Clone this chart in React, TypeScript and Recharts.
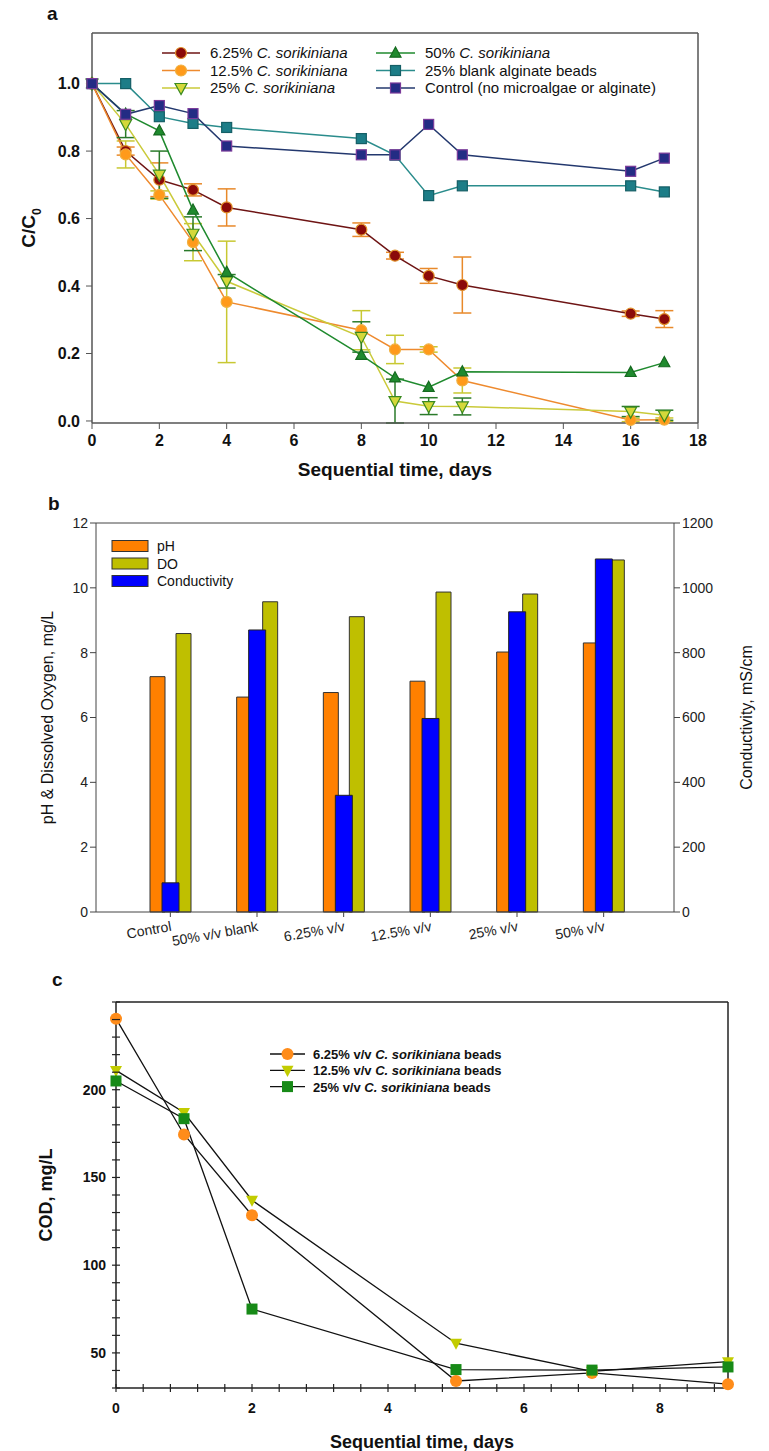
import { LineChart, Line, XAxis, YAxis, ErrorBar, ReferenceLine, BarChart, Bar } from "recharts";

const FONT = "Arial, 'Liberation Sans', Helvetica, sans-serif";

// ---- panel a: C/C0 vs time ----
const daysA = [0, 1, 2, 3, 4, 8, 9, 10, 11, 16, 17];
const cs625 = [1.0, 0.8, 0.715, 0.685, 0.633, 0.567, 0.49, 0.43, 0.403, 0.318, 0.302];
const cs625Err = [0, 0.012, 0.05, 0.018, 0.055, 0.02, 0.01, 0.022, 0.083, 0.008, 0.025];
const cs125 = [1.0, 0.79, 0.67, 0.53, 0.353, 0.269, 0.212, 0.212, 0.12, 0.003, 0.004];
const cs125Err = [0, 0.04, 0.012, 0.055, 0.18, 0.058, 0.042, 0.008, 0.037, 0.005, 0.005];
const cs25 = [1.0, 0.88, 0.73, 0.555, 0.414, 0.249, 0.059, 0.044, 0.043, 0.028, 0.017];
const cs25Err = [0, 0.04, 0.07, 0.05, 0.02, 0.045, 0.065, 0.025, 0.025, 0.015, 0.015];
const cs50 = [1.0, 0.91, 0.86, 0.625, 0.441, 0.195, 0.128, 0.1, 0.146, 0.144, 0.173];
const blank25 = [1.0, 1.0, 0.902, 0.882, 0.87, 0.837, 0.788, 0.668, 0.697, 0.697, 0.679];
const control = [1.0, 0.909, 0.935, 0.911, 0.815, 0.789, 0.789, 0.879, 0.789, 0.74, 0.779];
const xTicksA = [0, 2, 4, 6, 8, 10, 12, 14, 16, 18];
const yTicksA = [0, 0.2, 0.4, 0.6, 0.8, 1.0];

// ---- panel b: pH, DO, conductivity ----
const groupsB = ["Control", "50% v/v blank", "6.25% v/v", "12.5% v/v", "25% v/v", "50% v/v"];
const phB = [7.26, 6.63, 6.77, 7.12, 8.02, 8.3];
const doB = [8.59, 9.57, 9.11, 9.87, 9.81, 10.86];
const condB = [90, 870, 360, 597, 926, 1089];
const yTicksBLeft = [0, 2, 4, 6, 8, 10, 12];
const yTicksBRight = [0, 200, 400, 600, 800, 1000, 1200];

// ---- panel c: COD vs time ----
const daysC = [0, 1, 2, 5, 7, 9];
const cod625 = [240.5, 174.5, 128.5, 34, 38.6, 32.2];
const cod125 = [211, 187, 137, 55.5, 39.5, 45];
const cod25 = [205, 183.5, 75, 40.5, 40.2, 42];
const xTicksC = [0, 0.4, 0.8, 1.2, 1.6, 2, 2.4, 2.8, 3.2, 3.6, 4, 4.4, 4.8, 5.2, 5.6, 6, 6.4, 6.8, 7.2, 7.6, 8, 8.4, 8.8];
const yTicksC = [30, 40, 50, 60, 70, 80, 90, 100, 110, 120, 130, 140, 150, 160, 170, 180, 190, 200, 210, 220, 230, 240, 250];

const dataA = daysA.map((d, i) => ({
  day: d,
  cs625: cs625[i], cs625Err: cs625Err[i],
  cs125: cs125[i], cs125Err: cs125Err[i],
  cs25: cs25[i], cs25Err: cs25Err[i],
  cs50: cs50[i], blank25: blank25[i], control: control[i],
}));
const dataB = groupsB.map((g, i) => ({ cat: g, ph: phB[i], dox: doB[i], cond: condB[i] }));
const dataC = daysC.map((d, i) => ({ day: d, cod625: cod625[i], cod125: cod125[i], cod25: cod25[i] }));

function Marker({ cx, cy, shape, size, fill, stroke, strokeWidth = 1 }: any) {
  if (cx == null || cy == null || isNaN(cx) || isNaN(cy)) return null;
  const r = size / 2;
  const c = { fill, stroke, strokeWidth };
  if (shape === "circle") return <circle cx={cx} cy={cy} r={r} {...c} />;
  if (shape === "square") return <rect x={cx - r} y={cy - r} width={size} height={size} {...c} />;
  if (shape === "up")
    return <polygon points={`${cx},${cy - r * 1.1} ${cx + r},${cy + r * 0.75} ${cx - r},${cy + r * 0.75}`} {...c} />;
  return <polygon points={`${cx},${cy + r * 1.1} ${cx + r},${cy - r * 0.75} ${cx - r},${cy - r * 0.75}`} {...c} />;
}

// rotated axis title; px is the baseline x inside the chart svg
function YTitle({ viewBox, px, main, sub, size = 16, weight = 400 }: any) {
  if (!viewBox) return null;
  const cy = viewBox.y + viewBox.height / 2;
  return (
    <text transform={`translate(${px},${cy}) rotate(-90)`} textAnchor="middle" fontSize={size}
      fontWeight={weight} fill="#111" fontFamily={FONT}>
      {main}
      {sub && <tspan fontSize={size * 0.65} dy={size * 0.3}>{sub}</tspan>}
    </text>
  );
}

const seriesA = [
  { key: "cs625", err: "cs625Err", pre: "6.25% ", it: "C. sorikiniana", line: "#6E1414", fill: "#8B0A0A", edge: "#E0902A", shape: "circle", size: 11, errColor: "#E8892A" },
  { key: "cs125", err: "cs125Err", pre: "12.5% ", it: "C. sorikiniana", line: "#EE8A2E", fill: "#FF9A1A", edge: "#F0B040", shape: "circle", size: 11, errColor: "#C8C832" },
  { key: "cs25", err: "cs25Err", pre: "25% ", it: "C. sorikiniana", line: "#CACA3A", fill: "#D4D83A", edge: "#3A8A20", shape: "down", size: 12, errColor: "#2A7A2A" },
  { key: "cs50", err: "", pre: "50% ", it: "C. sorikiniana", line: "#1F8A2E", fill: "#1F8A2E", edge: "#166A20", shape: "up", size: 11, errColor: "" },
  { key: "blank25", err: "", pre: "25% blank alginate beads", it: "", line: "#2A8C8C", fill: "#1C7D87", edge: "#155F66", shape: "square", size: 10, errColor: "" },
  { key: "control", err: "", pre: "Control (no microalgae or alginate)", it: "", line: "#23386E", fill: "#232C84", edge: "#7A3A9A", shape: "square", size: 10, errColor: "" },
];

const seriesC = [
  { key: "cod625", pre: "6.25% v/v ", fill: "#FF8C1A", shape: "circle", size: 12 },
  { key: "cod125", pre: "12.5% v/v ", fill: "#C2CC00", shape: "down", size: 12 },
  { key: "cod25", pre: "25% v/v ", fill: "#178A17", shape: "square", size: 11 },
];

const seriesB = [
  { label: "pH", fill: "#FF8000" },
  { label: "DO", fill: "#BFBF00" },
  { label: "Conductivity", fill: "#0000FF" },
];

function CodXTick({ x, y, payload }: any) {
  const v = payload.value;
  const show = v % 2 === 0;
  return (
    <g>
      <line x1={x} x2={x} y1={y - 4} y2={y + 4} stroke="#222" strokeWidth={1.2} />
      {show && (
        <text x={x} y={y + 25} textAnchor="middle" fontSize={14} fontWeight={700} fill="#111" fontFamily={FONT}>{v}</text>
      )}
    </g>
  );
}

function CodYTick({ x, y, payload }: any) {
  const v = payload.value;
  const show = v % 50 === 0 && v <= 200;
  return (
    <g>
      <line x1={x - 4} x2={x + 4} y1={y} y2={y} stroke="#222" strokeWidth={1.2} />
      {show && (
        <text x={x - 10} y={y + 5} textAnchor="end" fontSize={14} fontWeight={700} fill="#111" fontFamily={FONT}>{v}</text>
      )}
    </g>
  );
}

const abs = (top: number, h: number): any => ({ position: "absolute", left: 0, top, width: 769, height: h });
const panelLabel = (left: number, top: number): any => ({
  position: "absolute", left, top, fontSize: 19, fontWeight: 700, fontFamily: FONT, color: "#111",
});

export default function App() {
  return (
    <div style={{ position: "absolute", left: 0, top: 0, width: 769, height: 1451, background: "#fff", fontFamily: FONT }}>
      {/* a */}
      <div style={abs(0, 480)}>
        <LineChart width={769} height={480} data={dataA} margin={{ top: 33, right: 71, bottom: 7, left: 12 }}>
          <XAxis dataKey="day" type="number" domain={[0, 18]} ticks={xTicksA} interval={0} height={50}
            tick={{ fontSize: 16, fontWeight: 700, fill: "#111" }} tickSize={6} tickMargin={6}
            axisLine={{ stroke: "#555", strokeWidth: 1.5 }} tickLine={{ stroke: "#555" }}
            label={{ value: "Sequential time, days", position: "insideBottom", offset: -3, fontSize: 19, fontWeight: 700, fill: "#111" }} />
          <YAxis type="number" domain={[0, 1.15]} ticks={yTicksA} interval={0} width={80}
            tickFormatter={(v: number) => v.toFixed(1)} tick={{ fontSize: 16, fontWeight: 700, fill: "#111" }}
            tickSize={6} tickMargin={6} axisLine={{ stroke: "#555", strokeWidth: 1.5 }} tickLine={{ stroke: "#555" }}
            label={<YTitle px={35} main="C/C" sub="0" size={19} weight={700} />} />
          <ReferenceLine y={1.15} stroke="#555" strokeWidth={1.5} />
          <ReferenceLine x={18} stroke="#555" strokeWidth={1.5} />
          {seriesA.map((s) => (
            <Line key={s.key} dataKey={s.key} type="linear" stroke={s.line} strokeWidth={1.5}
              isAnimationActive={false} activeDot={false}
              dot={(p: any) => (
                <Marker key={`${s.key}-${p.index}`} cx={p.cx} cy={p.cy} shape={s.shape} size={s.size}
                  fill={s.fill} stroke={s.edge} strokeWidth={1.2} />
              )}>
              {s.err && <ErrorBar dataKey={s.err} direction="y" width={9} stroke={s.errColor} strokeWidth={1.5} />}
            </Line>
          ))}
        </LineChart>
        <svg width={769} height={480} style={{ position: "absolute", left: 0, top: 0, pointerEvents: "none" }}>
          {seriesA.map((s, i) => {
            const col = i < 3 ? 0 : 1;
            const y = 53 + (i % 3) * 17.5;
            const x0 = col ? 376 : 162;
            const x1 = col ? 415 : 200;
            return (
              <g key={s.key}>
                <line x1={x0} x2={x1} y1={y} y2={y} stroke={s.line} strokeWidth={1.5} />
                <Marker cx={(x0 + x1) / 2} cy={y} shape={s.shape} size={s.size} fill={s.fill} stroke={s.edge} strokeWidth={1.2} />
                <text x={x1 + 10} y={y + 5} fontSize={15} fill="#111" fontFamily={FONT}>
                  {s.pre}
                  {s.it && <tspan fontStyle="italic">{s.it}</tspan>}
                </text>
              </g>
            );
          })}
        </svg>
        <div style={panelLabel(47, 3)}>a</div>
      </div>

      {/* b */}
      <div style={abs(480, 480)}>
        <BarChart width={769} height={480} data={dataB} barGap={11} margin={{ top: 43, right: 25, bottom: 8, left: 36 }}>
          <XAxis xAxisId="main" dataKey="cat" padding={{ left: 31, right: 27 }} height={40} interval={0}
            angle={-10} textAnchor="end" tick={{ fontSize: 14, fill: "#222" }} tickSize={5} tickMargin={4}
            axisLine={{ stroke: "#444" }} tickLine={{ stroke: "#444" }} />
          <XAxis xAxisId="cond" dataKey="cat" orientation="top" padding={{ left: 31, right: 27 }} hide />
          <YAxis yAxisId="left" domain={[0, 12]} ticks={yTicksBLeft} interval={0} width={60}
            tick={{ fontSize: 14, fill: "#222" }} tickSize={6} axisLine={{ stroke: "#444" }} tickLine={{ stroke: "#444" }}
            label={<YTitle px={53} main="pH & Dissolved Oxygen, mg/L" size={16} />} />
          <YAxis yAxisId="right" orientation="right" domain={[0, 1200]} ticks={yTicksBRight} interval={0} width={70}
            tick={{ fontSize: 14, fill: "#222" }} tickSize={6} axisLine={{ stroke: "#444" }} tickLine={{ stroke: "#444" }}
            label={<YTitle px={752} main="Conductivity, mS/cm" size={16} />} />
          <ReferenceLine xAxisId="main" yAxisId="left" y={12} stroke="#444" />
          <Bar xAxisId="main" yAxisId="left" dataKey="ph" fill={seriesB[0].fill} stroke="#333" strokeWidth={1}
            barSize={15} isAnimationActive={false} />
          <Bar xAxisId="main" yAxisId="left" dataKey="dox" fill={seriesB[1].fill} stroke="#333" strokeWidth={1}
            barSize={15} isAnimationActive={false} />
          <Bar xAxisId="cond" yAxisId="right" dataKey="cond" fill={seriesB[2].fill} stroke="#222" strokeWidth={1}
            barSize={17} isAnimationActive={false} />
        </BarChart>
        <svg width={769} height={480} style={{ position: "absolute", left: 0, top: 0, pointerEvents: "none" }}>
          {seriesB.map((s, i) => {
            const y = 66 + i * 17.5;
            return (
              <g key={s.label}>
                <rect x={112} y={y - 5.5} width={36} height={11} fill={s.fill} stroke="#333" />
                <text x={157} y={y + 5} fontSize={14} fill="#111" fontFamily={FONT}>{s.label}</text>
              </g>
            );
          })}
        </svg>
        <div style={panelLabel(48, 13)}>b</div>
      </div>

      {/* c */}
      <div style={abs(960, 491)}>
        <LineChart width={769} height={491} data={dataC} margin={{ top: 42, right: 41, bottom: 3, left: 46 }}>
          <XAxis dataKey="day" type="number" domain={[0, 9]} ticks={xTicksC} interval={0} height={60}
            tickSize={0} tickMargin={0} tickLine={false} tick={<CodXTick />}
            axisLine={{ stroke: "#222", strokeWidth: 1.5 }}
            label={{ value: "Sequential time, days", position: "insideBottom", offset: 0, fontSize: 18, fontWeight: 700, fill: "#111" }} />
          <YAxis type="number" domain={[30, 250]} ticks={yTicksC} interval={0} width={70}
            tickSize={0} tickMargin={0} tickLine={false} tick={<CodYTick />}
            axisLine={{ stroke: "#222", strokeWidth: 1.5 }}
            label={<YTitle px={52} main="COD, mg/L" size={18} weight={700} />} />
          <ReferenceLine y={250} stroke="#222" strokeWidth={1.5} />
          <ReferenceLine x={9} stroke="#222" strokeWidth={1.5} />
          {seriesC.map((s) => (
            <Line key={s.key} dataKey={s.key} type="linear" stroke="#111" strokeWidth={1.3}
              isAnimationActive={false} activeDot={false}
              dot={(p: any) => (
                <Marker key={`${s.key}-${p.index}`} cx={p.cx} cy={p.cy} shape={s.shape} size={s.size}
                  fill={s.fill} stroke="none" />
              )} />
          ))}
        </LineChart>
        <svg width={769} height={491} style={{ position: "absolute", left: 0, top: 0, pointerEvents: "none" }}>
          {seriesC.map((s, i) => {
            const y = 94 + i * 16.3;
            return (
              <g key={s.key}>
                <line x1={270} x2={305} y1={y} y2={y} stroke="#111" strokeWidth={1.3} />
                <Marker cx={287.5} cy={y} shape={s.shape} size={s.size} fill={s.fill} stroke="none" />
                <text x={313} y={y + 5} fontSize={13} fontWeight={700} fill="#111" fontFamily={FONT}>
                  {s.pre}
                  <tspan fontStyle="italic">C. sorikiniana</tspan>
                  {" beads"}
                </text>
              </g>
            );
          })}
        </svg>
        <div style={panelLabel(52, 9)}>c</div>
      </div>
    </div>
  );
}
